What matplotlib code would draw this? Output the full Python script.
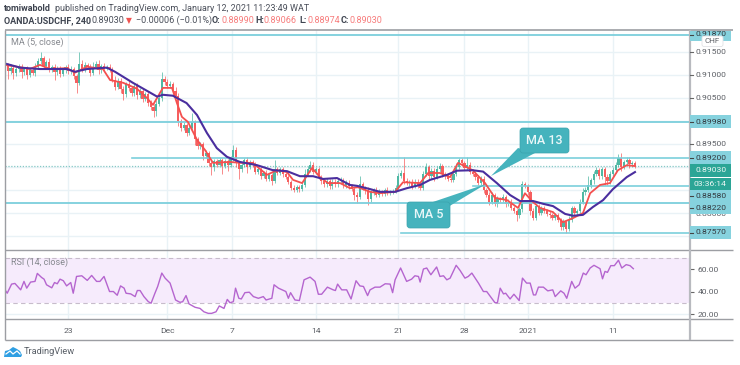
import matplotlib
matplotlib.use("Agg")
import matplotlib.pyplot as plt
from matplotlib.patches import FancyBboxPatch, Polygon, Rectangle

plt.rcParams['font.family'] = ['Roboto', 'DejaVu Sans']

# ---- data (closes / wicks in 1/10000 of a franc) ----
closes_pips = [
 9122,9108,9116,9104,9112,9118,9106,9113,9101,9110,
 9104,9118,9130,9136,9120,9128,9112,9118,9106,9114,
 9102,9110,9118,9108,9113,9098,9082,9125,9112,9122,
 9118,9104,9118,9124,9110,9120,9114,9118,9112,9090,
 9075,9088,9070,9058,9080,9072,9060,9076,9056,9066,
 9048,9058,9040,9030,9022,9038,9050,9092,9085,9076,
 9080,9065,9055,9000,8985,8992,8975,8985,8998,8960,
 8945,8950,8925,8930,8908,8900,8912,8905,8915,8903,
 8912,8905,8918,8938,8908,8895,8905,8915,8900,8910,
 8905,8890,8895,8880,8886,8875,8882,8870,8895,8888,
 8895,8885,8878,8868,8855,8850,8856,8852,8860,8885,
 8895,8905,8890,8895,8878,8870,8862,8870,8858,8868,
 8862,8870,8872,8860,8866,8858,8852,8840,8835,8862,
 8855,8850,8830,8845,8850,8840,8847,8842,8850,8845,
 8845,8848,8855,8880,8888,8870,8865,8868,8858,8868,
 8860,8855,8885,8900,8880,8892,8878,8895,8902,8885,
 8880,8875,8872,8885,8900,8915,8908,8898,8905,8890,
 8885,8878,8865,8875,8850,8840,8825,8840,8820,8830,
 8828,8835,8820,8825,8810,8805,8795,8808,8862,8858,
 8845,8805,8790,8815,8800,8810,8805,8798,8795,8790,
 8795,8785,8770,8780,8765,8785,8810,8800,8805,8825,
 8845,8850,8860,8872,8885,8893,8880,8895,8878,8870,
 8885,8893,8905,8920,8900,8910,8915,8906,8908,8903,
]
upper_wick = [
 6,5,8,4,6,5,7,4,6,5,  5,8,7,14,6,5,8,4,6,5,  6,5,4,7,6,5,4,25,8,6,
 5,7,10,6,8,5,6,4,6,5,  8,6,5,7,4,6,5,4,6,5,  5,6,4,5,6,8,12,14,5,6,
 6,5,8,6,5,6,4,6,20,5,  6,5,5,7,5,6,5,6,5,4,  6,5,7,10,5,4,6,5,6,5,
 5,6,4,6,5,7,5,6,20,5,  5,4,6,5,4,6,5,4,8,10,  8,8,6,5,6,5,4,6,5,5,
 6,5,6,4,5,6,4,5,6,18,  5,4,6,5,4,6,5,4,5,6,  5,4,5,6,6,34,6,4,5,6,
 6,5,6,8,5,6,5,8,6,5,  5,4,6,5,8,5,5,4,17,6,  5,6,4,6,5,4,6,5,4,6,
 5,6,4,5,6,5,4,5,8,6,  5,4,6,5,4,6,5,4,6,5,  4,5,4,6,5,8,6,5,4,6,
 10,6,20,5,6,8,5,6,5,6,  6,8,6,8,10,5,6,7,5,6,
]
lower_wick = [
 8,16,5,12,6,5,12,6,10,6,  5,6,5,6,8,5,6,5,16,5,  6,5,5,6,5,6,22,4,6,5,
 5,6,5,4,8,5,5,4,6,5,  8,6,10,12,5,6,6,5,8,5,  6,5,8,7,14,12,5,6,6,5,
 5,6,5,10,6,5,8,6,5,12,  6,5,10,5,6,18,8,6,5,18,  5,14,5,4,8,22,5,5,12,5,
 6,5,5,6,4,6,5,10,5,6,  5,6,5,5,6,5,5,6,5,4,  5,6,5,6,5,8,6,5,6,5,
 6,5,4,6,5,6,5,12,14,5,  6,8,12,5,6,5,6,5,6,5,  6,4,5,4,4,8,5,6,5,4,
 6,5,4,5,6,5,8,4,5,6,  6,5,4,5,4,4,6,5,4,6,  5,6,5,4,6,5,8,6,5,6,
 5,4,6,5,4,6,12,5,5,4,  6,10,5,6,5,4,6,5,6,5,  6,5,8,6,8,5,5,6,4,5,
 5,6,4,5,8,4,6,6,18,10,  8,6,5,5,8,5,6,8,5,6,
]
first_open_pips = 9118

ma13_pts = [(0,9125),(5.5,9116),(12.7,9113),(22.5,9113),(25.4,9107),(29.8,9113),(37,9116),(40,9107),
 (46.5,9083),(55.3,9053),(57.4,9057),(61,9055),(66,9039),(69.8,9013),(73.4,8974),(77,8941),(80.7,8922),
 (85.4,8911),(91.6,8904),(97.4,8893),(102.5,8891),(107.2,8880),(112,8880),(115.6,8874),(120.7,8876),
 (125.4,8861),(128,8859),(132.7,8852),(136.3,8846),(141.8,8846),(146.1,8854),(150.9,8861),(154.5,8872),
 (160.7,8883),(164.3,8892),(170,8893),(173.8,8890),(178.8,8865),(183.6,8839),(187.2,8826),(192,8826),
 (195.6,8820),(199.2,8815),(203.6,8798),(206.5,8794),(210.1,8796),(213.7,8813),(217.4,8828),(221,8852),
 (226,8878),(229,8889)]
ma5_pts = [(0,9122),(5.5,9117),(9,9113),(12.7,9122),(16.4,9113),(22.5,9115),(25.4,9105),(29.8,9118),
 (35.6,9113),(38.2,9089),(43,9083),(48,9070),(51.6,9050),(53.8,9035),(57.4,9072),(60.7,9072),(62.5,9039),
 (64.3,9009),(66.5,8998),(69.8,8959),(72.7,8937),(75.6,8909),(81.8,8911),(85.4,8909),(90.1,8909),
 (95.2,8883),(98.9,8893),(102.5,8889),(104.7,8872),(108,8865),(111.6,8898),(114.5,8878),(117.4,8865),
 (121.8,8865),(125.4,8854),(128.3,8856),(132.7,8846),(136.3,8843),(141.8,8846),(144.7,8867),(150.9,8865),
 (153.8,8887),(158.1,8887),(161.8,8878),(164.7,8909),(170,8893),(174.5,8865),(178.1,8833),(182.5,8828),
 (186.5,8811),(189,8843),(191.9,8824),(194.5,8811),(199.2,8802),(202.8,8780),(206.5,8789),(210.1,8800),
 (212.7,8843),(216.3,8861),(219.9,8865),(222.8,8893),(226,8904),(229,8902)]
rsi_pts = [(0,41.5),(0.8,38.5),(2.4,46.6),(3.6,47.2),(5.7,41.5),(6.9,49),(7.9,43),(9.3,48.4),(10.9,49),
 (11.75,56.1),(13.3,52.5),(14.2,51),(15.1,46),(17,43.3),(18,48),(19,46.9),(20,51),(21.2,49.6),(22.4,45),
 (23.9,48),(24.8,38.5),(26,53.4),(27.9,54),(29.9,49.9),(31.5,54.3),(33.3,49),(34.5,49),(36,53.4),(38,40),
 (39.4,40),(40.8,36.7),(42,45),(43.3,43),(44,38.5),(45.7,37.9),(47.3,35.5),(48.1,40.9),(49.1,40.9),
 (50.5,35.5),(52.1,31),(53.1,29.6),(54.5,38.5),(55.5,44.5),(57,56.4),(58.2,51.9),(60,47.5),(62,32.5),
 (63.6,30.4),(64.6,31),(65.8,36.4),(66.9,29),(69.1,26),(70.9,25),(72.3,22),(73.9,20.6),(75.1,20.6),
 (76.7,22),(77.9,27.2),(79.6,25),(80.8,33),(81.8,30),(83,31),(83.8,43),(85,34),(85.9,33.4),(87.2,39),
 (88.8,39.4),(90.3,35.5),(92.1,34),(93.9,35.5),(94.9,32.5),(97,34),(97.8,46),(99.4,43),(102.1,40),
 (103,34),(103.8,39),(105.4,32.5),(107,32),(108.7,50.4),(110.9,52.8),(112.7,49),(113.9,37.6),(115.1,37.6),
 (117.2,43.9),(119.3,41.5),(120.1,40.9),(120.9,46.6),(122.4,41.5),(124.2,41.5),(125.8,33.4),(127.6,49.6),
 (129,45),(130.3,44.5),(131.8,36.4),(132.7,41.5),(134.5,43.9),(136.3,43.9),(138.2,46.9),(140,46.6),
 (140.9,39),(141.8,50.4),(143.8,60.9),(146,49),(147.8,51),(149,54),(150.3,53.4),(150.9,48.4),(152.1,60),
 (153.3,60.9),(154.8,54.9),(156.9,61.8),(158.1,53.4),(159.4,54),(160.6,50.4),(161.8,51.9),(164,63.3),
 (165.4,58.8),(167.2,51.9),(168.4,53.4),(169.7,56.4),(172.1,47.5),(173.9,40),(175.1,40),(176.9,34),
 (178.1,30.1),(179,30.1),(180,43),(181.2,37.9),(182,38.5),(183.6,33.4),(185,37.6),(186.9,32),(188.1,51.9),
 (189.6,47.5),(190.9,47.5),(192.1,37),(192.9,37),(193.9,43.9),(195.7,43.9),(197.3,40.6),(199.1,41.5),
 (200,35.5),(202,40.6),(203.2,38.5),(204.2,34),(206,49),(207.2,43),(208.7,46),(210.2,56.4),(211.2,54.9),
 (212.7,60.9),(214.1,63.3),(216.3,60.3),(217.2,51.3),(218.1,57.9),(219,57),(220.2,63),(221.5,63),
 (223,67.8),(224.2,60.9),(225.8,63.9),(227.2,63),(228.4,60.3)]

full_levels = [0.9187, 0.8998, 0.8822]
partial_levels = [(0.8920, 46), (0.8858, 170), (0.8757, 144)]   # (price, first bar)
last_price = 0.8903
price_ticks = [0.915, 0.91, 0.905, 0.895]
price_grid = [0.915, 0.91, 0.905, 0.90, 0.895, 0.89, 0.885, 0.88, 0.875]
rsi_ticks = [20, 40, 60]
date_pos = [23, 59, 82.5, 113, 143, 167, 190, 221]
date_labels = ['23', 'Dec', '7', '14', '21', '28', '2021', '11']

UP, DOWN = '#4fb8a4', '#f65f5f'
LEVEL = '#7ccfdc'
GRID = '#e9f2f6'
FRAME = '#9c9ea3'
TXT = '#5d6066'
FS = 6.1

W, H = 740, 365
fig = plt.figure(figsize=(W/100, H/100), dpi=100, facecolor='white')
def box(l, t, r, b):
    return [l/W, 1-b/H, (r-l)/W, (b-t)/H]

ax = fig.add_axes(box(5, 30, 690, 250))
rx = fig.add_axes(box(5, 250, 690, 319), sharex=ax)

# candles
closes = [v/10000 for v in closes_pips]
opens = [first_open_pips/10000] + closes[:-1]
idx = list(range(len(closes)))
for i, o, c, u, d in zip(idx, opens, closes, upper_wick, lower_wick):
    col = UP if c >= o else DOWN
    ax.vlines(i, min(o, c)-d/10000, max(o, c)+u/10000, color=col, lw=0.6, alpha=0.85, zorder=3)
    ax.bar(i, abs(c-o) or 0.0001, bottom=min(o, c), width=0.8, color=col, lw=0, zorder=3)

for pts, col, lw in [(ma5_pts, '#f4504f', 1.3), (ma13_pts, '#4a2e9e', 1.5)]:
    ax.plot([p[0] for p in pts], [p[1]/10000 for p in pts], color=col, lw=lw, zorder=5)

for lv in full_levels:
    ax.axhline(lv, color=LEVEL, lw=1.3, zorder=4)
for lv, start in partial_levels:
    ax.plot([start, 249], [lv, lv], color=LEVEL, lw=1.2, zorder=4)
ax.axhline(last_price, color='#86c9c6', lw=0.9, ls=(0, (1, 1.3)), zorder=2)

ax.set_xlim(0, 249)
ax.set_ylim(0.871957, 0.919783)
ax.set_yticks(price_grid)
ax.set_yticklabels(['' for _ in price_grid])
ax.grid(True, color=GRID, lw=1, zorder=0)
ax.set_axisbelow(True)
ax.yaxis.tick_right()
ax.tick_params(axis='y', length=0)
ax.tick_params(axis='x', length=0, labelbottom=False)
ax.set_xticks(date_pos)

# RSI
rx.axhspan(30, 70, color='#f6ebfc', lw=0, zorder=1)
rx.axhline(70, color='#c7bccb', lw=0.8, ls=(0, (4, 3)), zorder=2)
rx.axhline(30, color='#c7bccb', lw=0.8, ls=(0, (4, 3)), zorder=2)
rx.plot([p[0] for p in rsi_pts], [p[1] for p in rsi_pts], color='#b565cf', lw=1.0, zorder=4)
rx.set_ylim(15.6, 76.9)
rx.set_yticks(rsi_ticks)
rx.set_yticklabels(['%.2f' % v for v in rsi_ticks], fontsize=FS, color=TXT)
rx.yaxis.tick_right()
rx.grid(True, color=GRID, lw=1, zorder=0)
rx.set_axisbelow(True)
rx.tick_params(axis='y', length=3, width=0.8, color='#666666', pad=2.5)
rx.tick_params(axis='x', length=0, pad=6.5)
rx.set_xticks(date_pos)
rx.set_xticklabels(date_labels, fontsize=FS, color=TXT)

for a in (ax, rx):
    for s in a.spines.values():
        s.set_visible(False)

# overlay in pixel coordinates for chrome and labels
ov = fig.add_axes([0, 0, 1, 1], zorder=20)
ov.set_xlim(0, W); ov.set_ylim(H, 0); ov.axis('off'); ov.patch.set_alpha(0)

# frame
for (x0, y0, x1, y1, lw, c) in [(4.5, 30, 733, 30, 1.2, FRAME), (4.5, 30, 4.5, 340, 1.0, FRAME),
                                (4.5, 340, 733, 340, 1.0, FRAME), (4.5, 250, 733, 250, 1.0, FRAME),
                                (4.5, 319, 733, 319, 1.0, FRAME), (690, 30, 690, 340, 1.6, '#b8babf')]:
    ov.plot([x0, x1], [y0, y1], color=c, lw=lw, solid_capstyle='butt')

# price scale: plain ticks
for p, y in zip(price_ticks, [52, 75, 98, 144]):
    ov.plot([690, 693], [y, y], color='#666666', lw=0.8)
    ov.text(695.5, y, '%.5f' % p, fontsize=FS, color=TXT, va='center', ha='left')

ov.text(695.5, 213.5, '0.88000', fontsize=FS, color=TXT, va='center', ha='left', zorder=2)

LABEL_BG = '#86d2de'
labels = [('0.91870', 30.5, 41, 34.5), ('0.89980', 115, 127.5, 121.5), ('0.89200', 151, 163.5, 157.5),
          ('0.88580', 190, 201.5, 195.5), ('0.88220', 202, 213.5, 208), ('0.87570', 226, 239, 232.5)]
for txt, t, b, yt in labels:
    ov.add_patch(Rectangle((690, t), 41, b-t, fc=LABEL_BG, ec='none', zorder=3))
    ov.plot([690, 693], [yt, yt], color='#444444', lw=0.8, zorder=4)
    ov.text(695.5, yt, txt, fontsize=FS, color='#333a40', va='center', ha='left', zorder=4)
ov.add_patch(Rectangle((690, 163.5), 41, 13.5, fc='#2ba596', ec='none', zorder=3))
ov.text(695.5, 170, '0.89030', fontsize=FS, color='#ecf7f5', va='center', ha='left', zorder=4)
ov.add_patch(Rectangle((690, 178), 41, 12, fc='#2ba596', ec='none', zorder=3))
ov.text(693, 184, '03:36:14', fontsize=FS, color='#ecf7f5', va='center', ha='left', zorder=4)
ov.add_patch(FancyBboxPatch((703, 37), 19, 8.5, boxstyle='round,pad=1,rounding_size=2', fc='white', ec='#e0e2e5', lw=0.6, zorder=5))
ov.text(712.5, 41, 'CHF', fontsize=5.8, color=TXT, va='center', ha='center', zorder=6)

# header
HF = 6.5
ov.text(4, 8.5, 'tomiwabold', fontsize=HF, fontweight='bold', color='#3e4450', va='center')
ov.text(55, 8.5, 'published on TradingView.com, January 12, 2021 11:23:49 WAT', fontsize=HF, color='#4a4f5a', va='center')
ov.text(4, 20.5, 'OANDA:USDCHF, 240', fontsize=HF, fontweight='bold', color='#3e4450', va='center')
ov.text(92, 20.5, '0.89030', fontsize=HF, color='#4a4f5a', va='center')
ov.text(126, 20.5, '▼', fontsize=5.5, color='#ef5350', va='center', family=['DejaVu Sans'])
ov.text(136, 20.5, '−0.00006 (−0.01%)', fontsize=HF, color='#4a4f5a', va='center')
for k, kx, v, vx in [('O:', 212, '0.88990', 221), ('H:', 255, '0.89066', 263), ('L:', 299, '0.88974', 307), ('C:', 341, '0.89030', 349)]:
    ov.text(kx, 20.5, k, fontsize=HF, fontweight='bold', color='#3e4450', va='center')
    ov.text(vx, 20.5, v, fontsize=HF, color='#f77c7c', va='center')

ov.text(11, 42, 'MA (5, close)', fontsize=6.5, color='#85888e', va='center')
ov.text(11, 262.5, 'RSI (14, close)', fontsize=6.5, color='#85888e', va='center')

# callouts
CALL = '#45b3bd'
ov.add_patch(Polygon([(518, 148), (535, 153), (491, 176)], fc=CALL, ec='none', zorder=6))
ov.add_patch(FancyBboxPatch((522, 130), 45, 21, boxstyle='round,pad=2,rounding_size=3', fc=CALL, ec='#3aa3ad', lw=0.5, zorder=7))
ov.text(544.5, 140.5, 'MA 13', fontsize=9, color='#e9f7f8', va='center', ha='center', zorder=8, fontweight='medium')
ov.add_patch(Polygon([(424, 205), (448, 207), (486, 184)], fc=CALL, ec='none', zorder=6))
ov.add_patch(FancyBboxPatch((409, 204), 39, 22, boxstyle='round,pad=2,rounding_size=3', fc=CALL, ec='#3aa3ad', lw=0.5, zorder=7))
ov.text(428.5, 215, 'MA 5', fontsize=9, color='#e9f7f8', va='center', ha='center', zorder=8, fontweight='medium')

# logo
ov.add_patch(Polygon([(4, 357), (5, 351), (9, 350), (13, 347), (17, 349), (20, 351), (22, 355), (21, 357)], fc='#2f9fe3', ec='none'))
ov.plot([6, 10, 13, 17, 20], [354, 351, 354, 351, 354], color='white', lw=0.9)
ov.text(24, 352, 'TradingView', fontsize=6.7, color='#5a6068', va='center')

fig.savefig('out.png', dpi=100, facecolor='white')
